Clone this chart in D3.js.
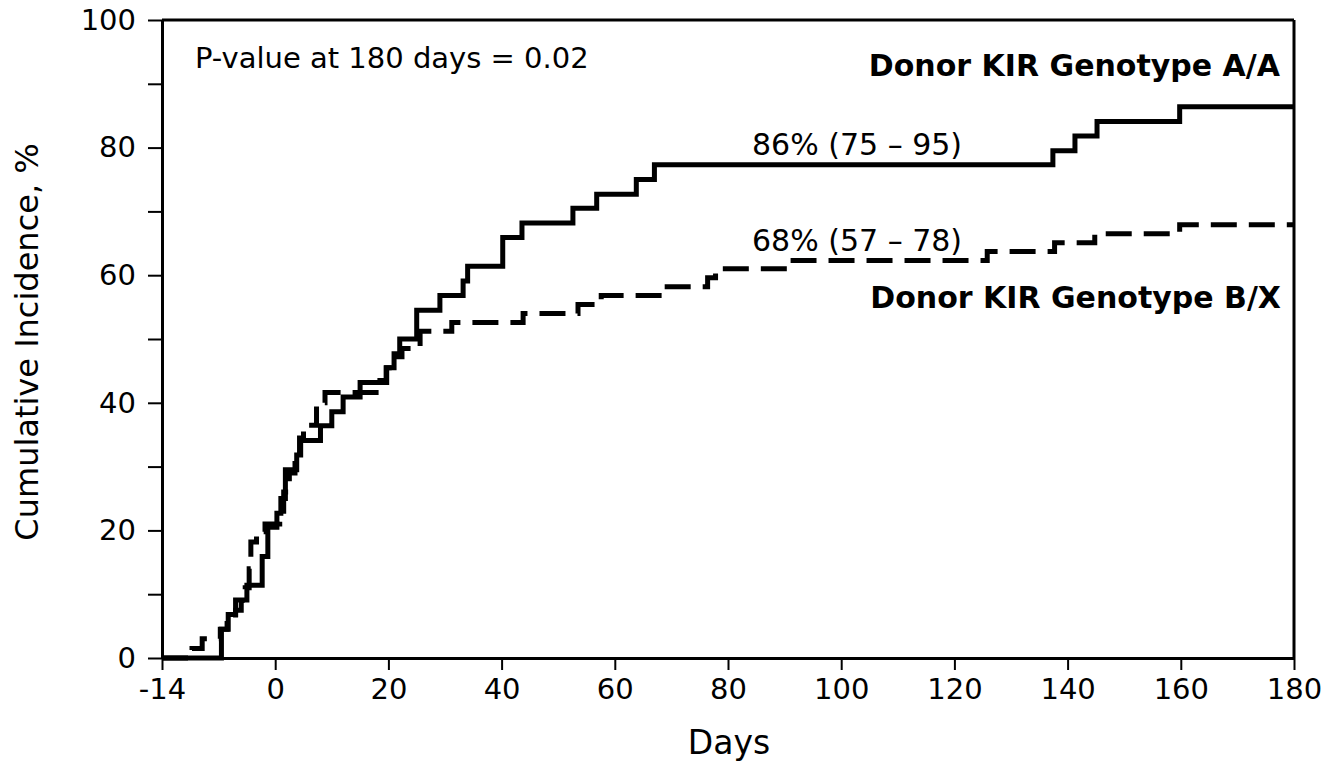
<!DOCTYPE html>
<html>
<head>
<meta charset="utf-8">
<script src="https://cdn.jsdelivr.net/npm/d3@7"></script>
<style>
  html, body { margin: 0; padding: 0; background: #fff; }
  svg { display: block; font-family: "DejaVu Sans", Verdana, sans-serif; }
</style>
</head>
<body>
<div id="chart"></div>
<script>
// Donor KIR genotype A/A (solid)
const aaDays = [-9.5, -8.3, -7.0, -5.0, -2.3, -1.3, 0.3, 1.0, 1.8, 3.8, 4.5, 8.0, 10.0, 12.0, 15.0,
  19.7, 21.0, 22.0, 25.0, 29.1, 33.2, 34.0, 40.2, 43.6, 52.6, 56.8, 63.8, 67.0, 137.4, 141.3, 145.2, 159.8];
const aaValues = [4.5, 6.8, 9.1, 11.4, 15.9, 20.5, 22.7, 25.0, 29.5, 31.8, 34.1, 36.4, 38.6, 40.9, 43.2,
  45.5, 47.7, 50.0, 54.5, 56.8, 59.1, 61.4, 65.9, 68.2, 70.5, 72.7, 75.0, 77.3, 79.5, 81.8, 84.1, 86.4];

// Donor KIR genotype B/X (dashed)
const bxDays = [-14.7, -12.9, -9.7, -8.5, -7.0, -6.0, -5.3, -4.6, -4.3, -3.3, -1.8, 0.8, 1.5, 2.5, 3.5,
  4.3, 5.0, 7.3, 8.8, 18.5, 19.6, 20.6, 22.4, 25.6, 31.2, 43.8, 53.5, 57.6, 68.8, 76.4, 77.8, 91.5,
  125.8, 137.7, 144.8, 159.8];
const bxValues = [1.5, 3.0, 4.5, 6.0, 7.5, 9.0, 11.0, 14.0, 18.2, 19.8, 21.0, 23.0, 26.0, 29.0, 31.5,
  34.5, 36.5, 40.0, 41.6, 43.5, 45.5, 47.2, 48.5, 51.2, 52.6, 54.0, 55.4, 56.8, 58.2, 59.6, 61.0, 62.3,
  63.7, 65.1, 66.5, 67.9];

const xTicks = [-20, 0, 20, 40, 60, 80, 100, 120, 140, 160, 180];
const xTickLabels = ["-14", "0", "20", "40", "60", "80", "100", "120", "140", "160", "180"];
const yTicks = [0, 10, 20, 30, 40, 50, 60, 70, 80, 90, 100];
const yLabelTicks = [0, 20, 40, 60, 80, 100];

const width = 1340, height = 764;
const margin = { top: 20, right: 46, bottom: 106, left: 162 };
const innerW = width - margin.left - margin.right;
const innerH = height - margin.top - margin.bottom;

const x = d3.scaleLinear().domain([-20, 180]).range([0, innerW]);
const y = d3.scaleLinear().domain([0, 100]).range([innerH, 0]);

const svg = d3.select("#chart").append("svg")
  .attr("width", width)
  .attr("height", height);

const g = svg.append("g")
  .attr("transform", `translate(${margin.left}, ${margin.top})`);

// build step series from the arrays
const toSeries = (days, values) => {
  const pts = [{ day: -20, value: 0 }];
  days.forEach((d, i) => pts.push({ day: d, value: values[i] }));
  pts.push({ day: 180, value: values[values.length - 1] });
  return pts;
};

const line = d3.line()
  .x((d) => x(d.day))
  .y((d) => y(d.value))
  .curve(d3.curveStepAfter);

g.append("path")
  .datum(toSeries(bxDays, bxValues))
  .attr("fill", "none")
  .attr("stroke", "#000")
  .attr("stroke-width", 5)
  .attr("stroke-dasharray", "26,12")
  .attr("d", line);

g.append("path")
  .datum(toSeries(aaDays, aaValues))
  .attr("fill", "none")
  .attr("stroke", "#000")
  .attr("stroke-width", 5)
  .attr("d", line);

// axes
const xAxis = d3.axisBottom(x)
  .tickValues(xTicks)
  .tickSize(12)
  .tickSizeOuter(0)
  .tickPadding(8)
  .tickFormat((d, i) => xTickLabels[i]);

const yAxis = d3.axisLeft(y)
  .tickValues(yTicks)
  .tickSize(14)
  .tickSizeOuter(0)
  .tickPadding(12)
  .tickFormat((d) => (yLabelTicks.includes(d) ? d : ""));

const gx = g.append("g")
  .attr("id", "x-axis")
  .attr("transform", `translate(0, ${innerH})`)
  .call(xAxis);

const gy = g.append("g")
  .attr("id", "y-axis")
  .call(yAxis);

[gx, gy].forEach((ax) => {
  ax.selectAll(".domain").attr("stroke-width", 3);
  ax.selectAll(".tick line").attr("stroke-width", 2);
  ax.selectAll(".tick text")
    .attr("font-family", "DejaVu Sans, Verdana, sans-serif")
    .attr("font-size", 29)
    .attr("fill", "#000");
});

// top and right frame
g.append("line")
  .attr("x1", 0).attr("x2", innerW)
  .attr("y1", 0).attr("y2", 0)
  .attr("stroke", "#000").attr("stroke-width", 3);
g.append("line")
  .attr("x1", innerW).attr("x2", innerW)
  .attr("y1", 0).attr("y2", innerH)
  .attr("stroke", "#000").attr("stroke-width", 3);

// axis titles
svg.append("text")
  .attr("x", 729)
  .attr("y", 754)
  .attr("text-anchor", "middle")
  .attr("font-size", 33)
  .text("Days");

svg.append("text")
  .attr("transform", "translate(38, 342) rotate(-90)")
  .attr("text-anchor", "middle")
  .attr("font-size", 32)
  .text("Cumulative Incidence, %");

// annotations
svg.append("text")
  .attr("x", 195)
  .attr("y", 68)
  .attr("font-size", 29)
  .text("P-value at 180 days = 0.02");

svg.append("text")
  .attr("x", 1280)
  .attr("y", 76)
  .attr("text-anchor", "end")
  .attr("font-size", 30)
  .attr("font-weight", "bold")
  .text("Donor KIR Genotype A/A");

svg.append("text")
  .attr("x", 1281)
  .attr("y", 308)
  .attr("text-anchor", "end")
  .attr("font-size", 30)
  .attr("font-weight", "bold")
  .text("Donor KIR Genotype B/X");

svg.append("text")
  .attr("x", 752)
  .attr("y", 155)
  .attr("font-size", 30)
  .text("86% (75 \u2013 95)");

svg.append("text")
  .attr("x", 752)
  .attr("y", 251)
  .attr("font-size", 30)
  .text("68% (57 \u2013 78)");
</script>
</body>
</html>
